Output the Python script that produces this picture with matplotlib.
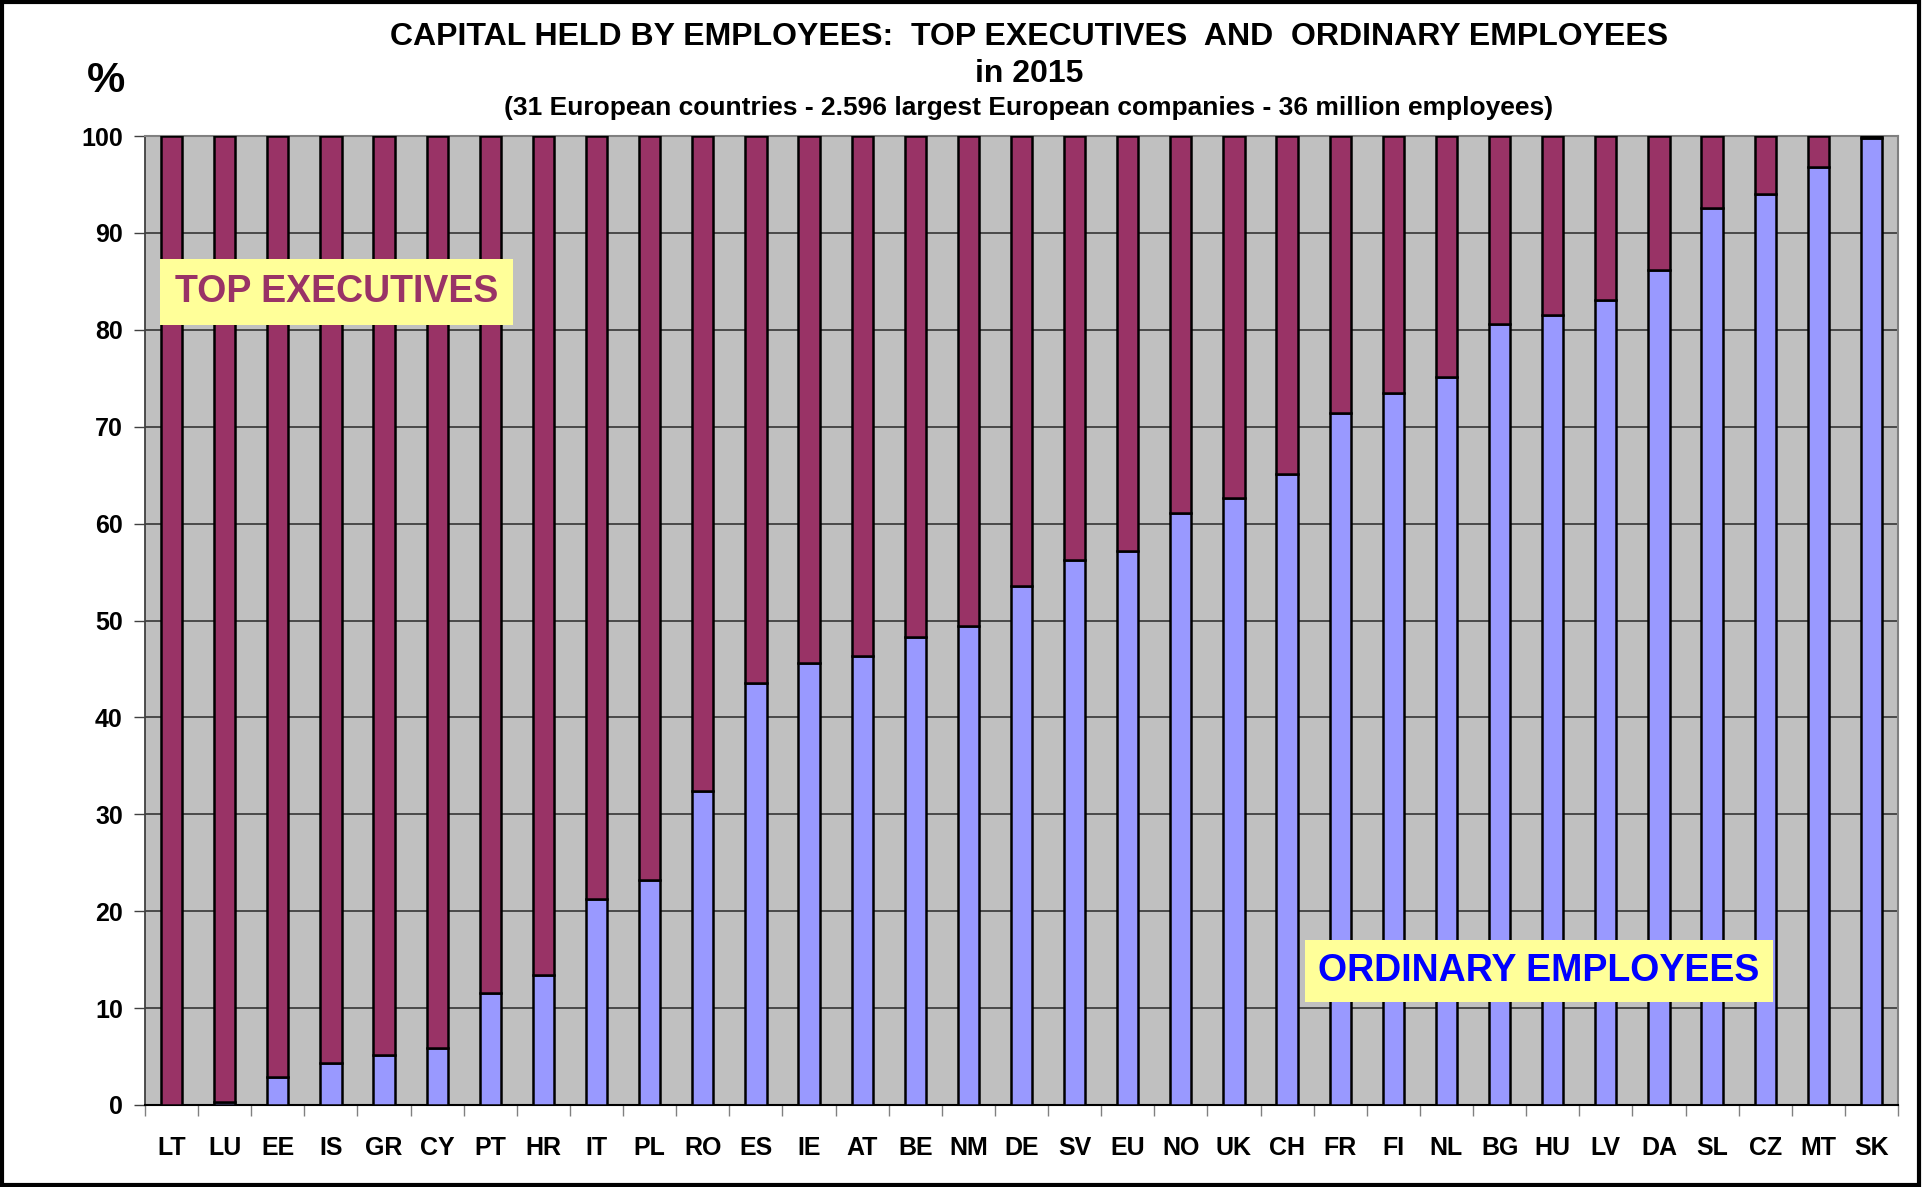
import numpy as np
import matplotlib
matplotlib.use("Agg")
import matplotlib.pyplot as plt
from matplotlib.patches import Rectangle

plt.rcParams['font.family'] = ['Liberation Sans', 'DejaVu Sans']
plt.rcParams['font.weight'] = 'bold'

# Data (share of employee-held capital, %)
countries = ['LT', 'LU', 'EE', 'IS', 'GR', 'CY', 'PT', 'HR', 'IT', 'PL', 'RO',
             'ES', 'IE', 'AT', 'BE', 'NM', 'DE', 'SV', 'EU', 'NO', 'UK', 'CH',
             'FR', 'FI', 'NL', 'BG', 'HU', 'LV', 'DA', 'SL', 'CZ', 'MT', 'SK']
ordinary = [0.0, 0.3, 2.9, 4.3, 5.2, 5.9, 11.6, 13.4, 21.3, 23.2, 32.4,
            43.6, 45.6, 46.3, 48.3, 49.4, 53.6, 56.2, 57.2, 61.1, 62.6, 65.1,
            71.4, 73.5, 75.1, 80.6, 81.5, 83.1, 86.2, 92.6, 94.0, 96.8, 99.8]
top_exec = [100 - v for v in ordinary]

# Figure
fig = plt.figure(figsize=(19.23, 11.87), dpi=100)
ax = fig.add_axes([0.0754, 0.0691, 0.9116, 0.8163])
ax.set_facecolor('#C0C0C0')

x = np.arange(len(countries))
w = 0.40
ax.bar(x, ordinary, w, color='#9999FF', edgecolor='black', linewidth=1.8, zorder=3)
ax.bar(x, top_exec, w, bottom=ordinary, color='#993366', edgecolor='black',
       linewidth=1.8, zorder=3)

ax.set_xlim(-0.5, len(countries) - 0.5)
ax.set_ylim(0, 100)
ax.set_yticks(range(0, 101, 10))
ax.yaxis.grid(True, color='#404040', linewidth=1.3, zorder=1)
ax.set_axisbelow(True)

ax.set_xticks(x)
ax.set_xticklabels(countries, fontsize=18, fontweight='bold')
ax.set_xticks(np.arange(-0.5, len(countries), 1), minor=True)
ax.tick_params(axis='x', which='major', length=0, pad=22)
ax.tick_params(axis='x', which='minor', length=8, color='#808080', width=1)
ax.tick_params(axis='y', length=8, color='#404040', width=1, labelsize=18, pad=8)
for lab in ax.get_yticklabels():
    lab.set_fontweight('bold')

for s in ['top', 'right']:
    ax.spines[s].set_color('#808080')
    ax.spines[s].set_linewidth(1.5)
ax.spines['left'].set_color('#404040')
ax.spines['left'].set_linewidth(1.3)
ax.spines['bottom'].set_color('black')
ax.spines['bottom'].set_linewidth(1.5)

# Labels inside the plot
ax.text(3.11, 83.9, 'TOP EXECUTIVES', fontsize=27, fontweight='bold',
        color='#993366', ha='center', va='center', zorder=5,
        bbox=dict(boxstyle='square,pad=0.4', facecolor='#FFFF99', edgecolor='none'))
ax.text(25.74, 13.8, 'ORDINARY EMPLOYEES', fontsize=27, fontweight='bold',
        color='#0000FF', ha='center', va='center', zorder=5,
        bbox=dict(boxstyle='square,pad=0.35', facecolor='#FFFF99', edgecolor='none'))

# Titles
fig.text(0.535, 0.969, 'CAPITAL HELD BY EMPLOYEES:  TOP EXECUTIVES  AND  ORDINARY EMPLOYEES',
         ha='center', va='center', fontsize=23, fontweight='bold')
fig.text(0.535, 0.938, 'in 2015', ha='center', va='center', fontsize=23, fontweight='bold')
fig.text(0.535, 0.909, '(31 European countries - 2.596 largest European companies - 36 million employees)',
         ha='center', va='center', fontsize=19, fontweight='bold')
fig.text(0.055, 0.932, '%', ha='center', va='center', fontsize=31, fontweight='bold')

# Figure border
fig.patches.append(Rectangle((0.001, 0.002), 0.997, 0.996, transform=fig.transFigure,
                             fill=False, edgecolor='black', linewidth=3))

fig.savefig('out.png', dpi=100)
